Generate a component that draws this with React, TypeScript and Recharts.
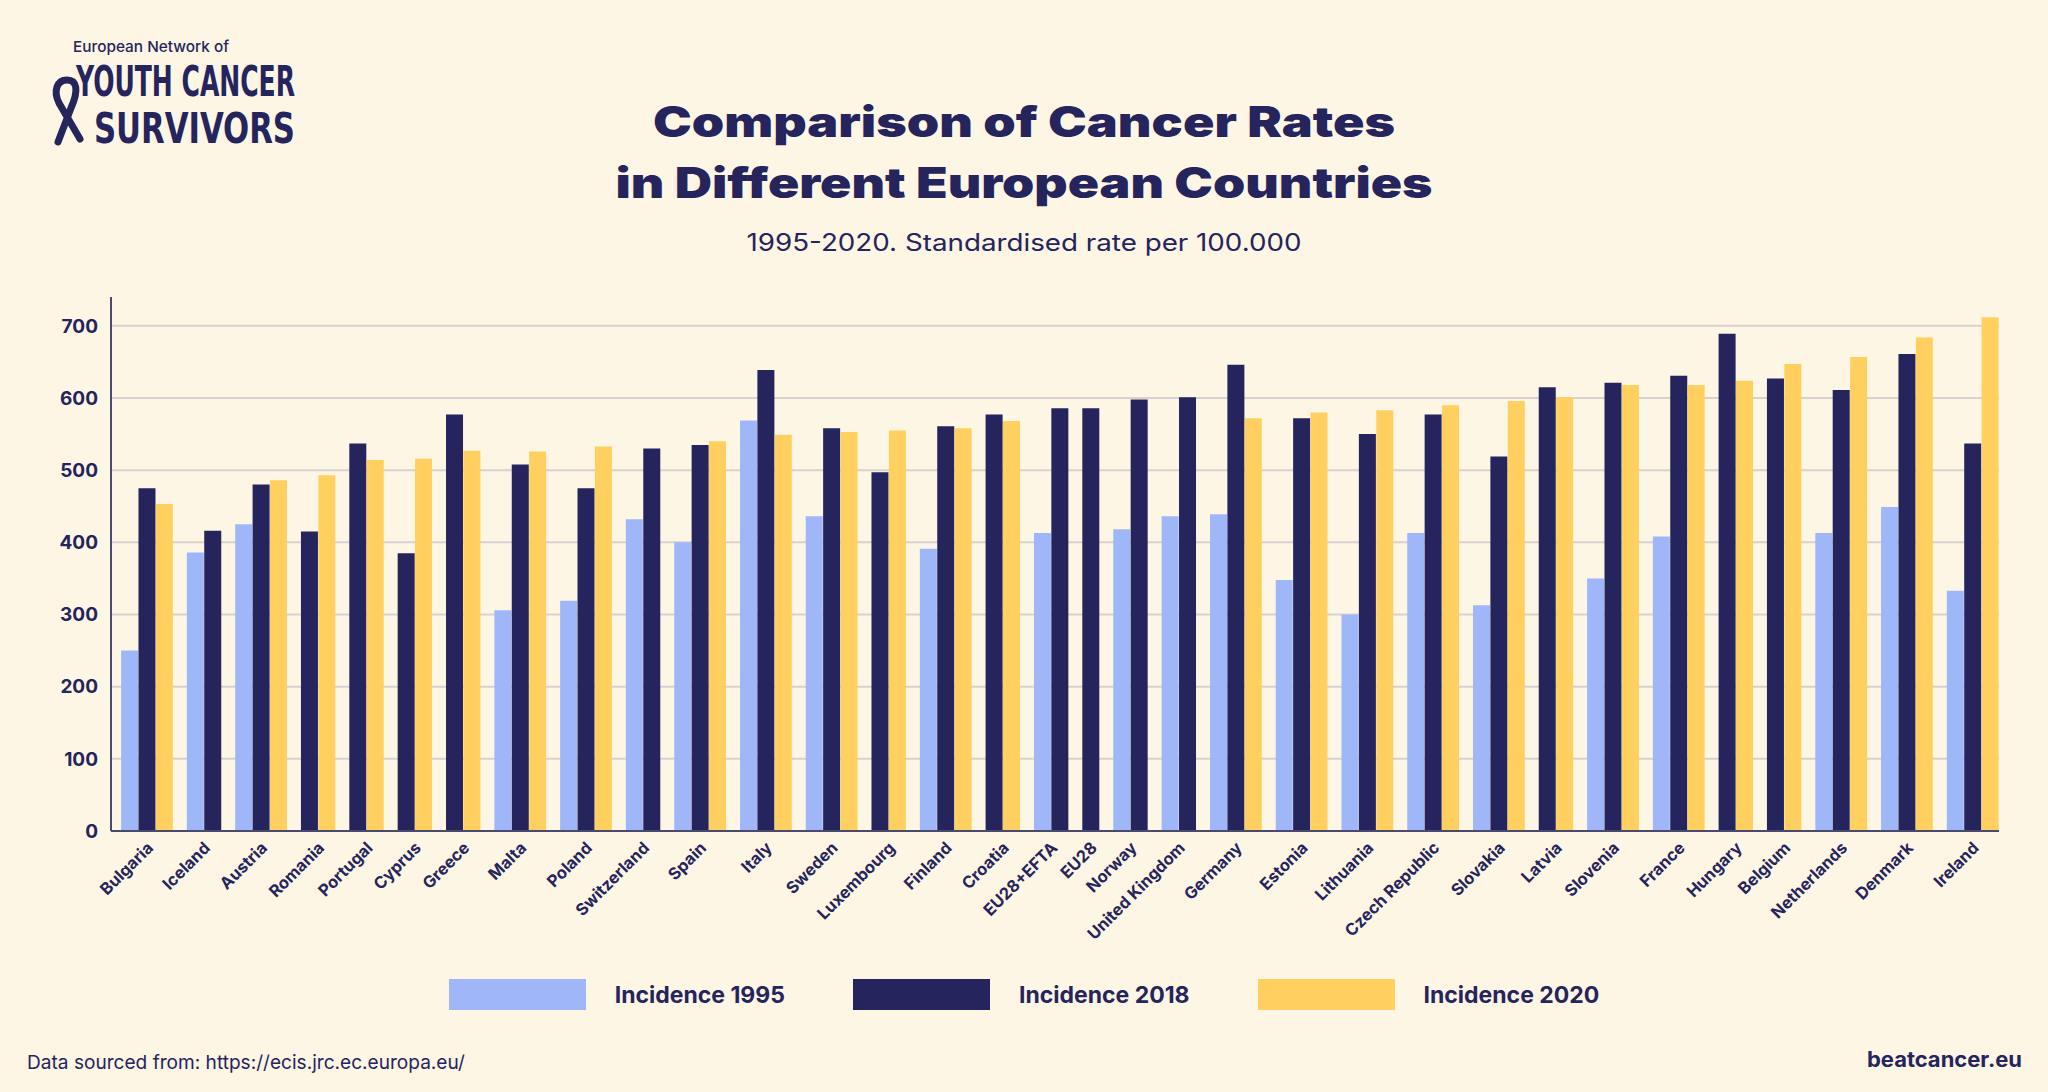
import { BarChart, Bar, XAxis, YAxis, CartesianGrid, Legend } from 'recharts'

const countries = [
  'Bulgaria', 'Iceland', 'Austria', 'Romania', 'Portugal', 'Cyprus', 'Greece', 'Malta',
  'Poland', 'Switzerland', 'Spain', 'Italy', 'Sweden', 'Luxembourg', 'Finland', 'Croatia',
  'EU28+EFTA', 'EU28', 'Norway', 'United Kingdom', 'Germany', 'Estonia', 'Lithuania',
  'Czech Republic', 'Slovakia', 'Latvia', 'Slovenia', 'France', 'Hungary', 'Belgium',
  'Netherlands', 'Denmark', 'Ireland',
]

const incidence1995 = [
  250, 386, 425, null, null, null, null, 306, 319, 432, 400, 569, 436, null, 391, null,
  413, null, 418, 436, 439, 348, 300, 413, 313, null, 350, 408, null, null, 413, 449, 333,
]

const incidence2018 = [
  475, 416, 480, 415, 537, 385, 577, 508, 475, 530, 535, 639, 558, 497, 561, 577,
  586, 586, 598, 601, 646, 572, 550, 577, 519, 615, 621, 631, 689, 627, 611, 661, 537,
]

const incidence2020 = [
  453, null, 486, 493, 514, 516, 527, 526, 533, null, 540, 549, 553, 555, 558, 568,
  null, null, null, null, 572, 580, 583, 590, 596, 601, 618, 618, 624, 647, 657, 684, 712,
]

const yTicks = [0, 100, 200, 300, 400, 500, 600, 700]
const Y_MAX = 740

const NAVY = '#25245D'
const BG = '#FDF6E4'
const FONT = 'Inter, "Open Sans", sans-serif'
const NARROW = '"Liberation Sans Narrow", "DejaVu Sans Condensed", sans-serif'

const series = [
  { key: 'inc1995', name: 'Incidence 1995', color: '#9FB7F9', values: incidence1995 },
  { key: 'inc2018', name: 'Incidence 2018', color: '#25245D', values: incidence2018 },
  { key: 'inc2020', name: 'Incidence 2020', color: '#FFD05F', values: incidence2020 },
]

// bars of one country touch; countries are split by a gap (in bar widths)
const GROUP_GAP = 0.78
const LEAD = 0.58

const rows: Record<string, number>[] = []
const groupCenters: number[] = []
let pos = 0
countries.forEach((_, i) => {
  const start = pos
  series.forEach((s) => {
    const v = s.values[i]
    if (v == null) return
    rows.push({ x: pos + 0.5, [s.key]: v })
    pos += 1
  })
  groupCenters.push((start + pos) / 2)
  pos += GROUP_GAP
})
const xMax = pos - GROUP_GAP

function countryAt(value: number) {
  let best = 0
  groupCenters.forEach((c, i) => {
    if (Math.abs(c - value) < Math.abs(groupCenters[best] - value)) best = i
  })
  return countries[best]
}

function CountryTick({ x, y, payload }: any) {
  const tx = x + 7
  const ty = y + 18
  return (
    <text
      x={tx}
      y={ty}
      transform={`rotate(-45 ${tx} ${ty})`}
      textAnchor="end"
      fill={NAVY}
      fontSize={16.5}
      fontWeight={700}
      fontFamily={FONT}
    >
      {countryAt(payload.value)}
    </text>
  )
}

function gridRows({ yAxis, offset }: any) {
  if (yAxis && typeof yAxis.scale === 'function') return yTicks.map((t) => yAxis.scale(t))
  return yTicks.map((t) => offset.top + offset.height * (1 - t / Y_MAX))
}

function LegendContent() {
  return (
    <div style={{ display: 'flex', justifyContent: 'center', alignItems: 'center', fontFamily: FONT }}>
      {series.map((s, i) => (
        <div key={s.key} style={{ display: 'flex', alignItems: 'center', marginLeft: i ? 68 : 0 }}>
          <div style={{ width: 137, height: 31, background: s.color }} />
          <span style={{ marginLeft: 29, fontSize: 23, fontWeight: 700, color: NAVY }}>{s.name}</span>
        </div>
      ))}
    </div>
  )
}

function Header() {
  return (
    <svg width={2048} height={1092} style={{ position: 'absolute', left: 0, top: 0 }}>
      {/* logo */}
      <text x={73} y={52} fontFamily={FONT} fontSize={15} fontWeight={500} fill={NAVY}
        textLength={156} lengthAdjust="spacingAndGlyphs">European Network of</text>
      <path d="M58 142 L71 108 C79 90 77 80 67 80 C57 80 53 91 59 103 L80 139"
        fill="none" stroke={NAVY} strokeWidth={7} strokeLinecap="round" />
      <text x={76} y={96} fontFamily={NARROW} fontSize={42} fontWeight={700} fill={NAVY}
        textLength={219} lengthAdjust="spacingAndGlyphs">YOUTH CANCER</text>
      <text x={94} y={143} fontFamily={NARROW} fontSize={42} fontWeight={700} fill={NAVY}
        textLength={201} lengthAdjust="spacingAndGlyphs">SURVIVORS</text>

      {/* title */}
      <text x={1024} y={137} textAnchor="middle" fontFamily={FONT} fontSize={42} fontWeight={900}
        fill={NAVY} textLength={742} lengthAdjust="spacingAndGlyphs">Comparison of Cancer Rates</text>
      <text x={1024} y={198} textAnchor="middle" fontFamily={FONT} fontSize={42} fontWeight={900}
        fill={NAVY} textLength={817} lengthAdjust="spacingAndGlyphs">in Different European Countries</text>
      <text x={1024} y={251} textAnchor="middle" fontFamily={FONT} fontSize={24} fontWeight={400}
        fill={NAVY} textLength={555} lengthAdjust="spacingAndGlyphs">1995-2020. Standardised rate per 100.000</text>

      {/* footer */}
      <text x={27} y={1069} fontFamily={FONT} fontSize={19} fill={NAVY}
        textLength={438} lengthAdjust="spacingAndGlyphs">Data sourced from: https://ecis.jrc.ec.europa.eu/</text>
      <text x={2022} y={1067} textAnchor="end" fontFamily={FONT} fontSize={21} fontWeight={700}
        fill={NAVY} textLength={155} lengthAdjust="spacingAndGlyphs">beatcancer.eu</text>
    </svg>
  )
}

export default function App() {
  return (
    <div style={{ position: 'absolute', left: 0, top: 0, width: 2048, height: 1092, background: BG, overflow: 'hidden' }}>
      <Header />
      <div style={{ position: 'absolute', left: 0, top: 0 }}>
        <BarChart width={2048} height={1092} data={rows}
          margin={{ top: 297, right: 49, bottom: 161, left: 51 }}>
          <CartesianGrid vertical={false} stroke="#D9D1CF" strokeWidth={2}
            horizontalCoordinatesGenerator={gridRows} />
          <XAxis
            type="number"
            dataKey="x"
            domain={[-LEAD, xMax]}
            allowDataOverflow
            ticks={groupCenters}
            interval={0}
            height={100}
            tickSize={0}
            tickMargin={0}
            tickLine={false}
            axisLine={{ stroke: '#4A4A6E', strokeWidth: 2 }}
            tick={<CountryTick />}
          />
          <YAxis
            domain={[0, Y_MAX]}
            ticks={yTicks}
            allowDataOverflow
            width={60}
            tickSize={0}
            tickMargin={13}
            tickLine={false}
            axisLine={{ stroke: '#4A4A6E', strokeWidth: 2 }}
            tick={{ fill: NAVY, fontSize: 19, fontWeight: 700, fontFamily: FONT }}
          />
          <Legend
            layout="horizontal"
            verticalAlign="middle"
            align="center"
            content={<LegendContent />}
            wrapperStyle={{ top: 979, left: 0, width: 2048 }}
          />
          {series.map((s) => (
            <Bar key={s.key} dataKey={s.key} name={s.name} stackId="a" fill={s.color}
              barSize={17} isAnimationActive={false} />
          ))}
        </BarChart>
      </div>
    </div>
  )
}
